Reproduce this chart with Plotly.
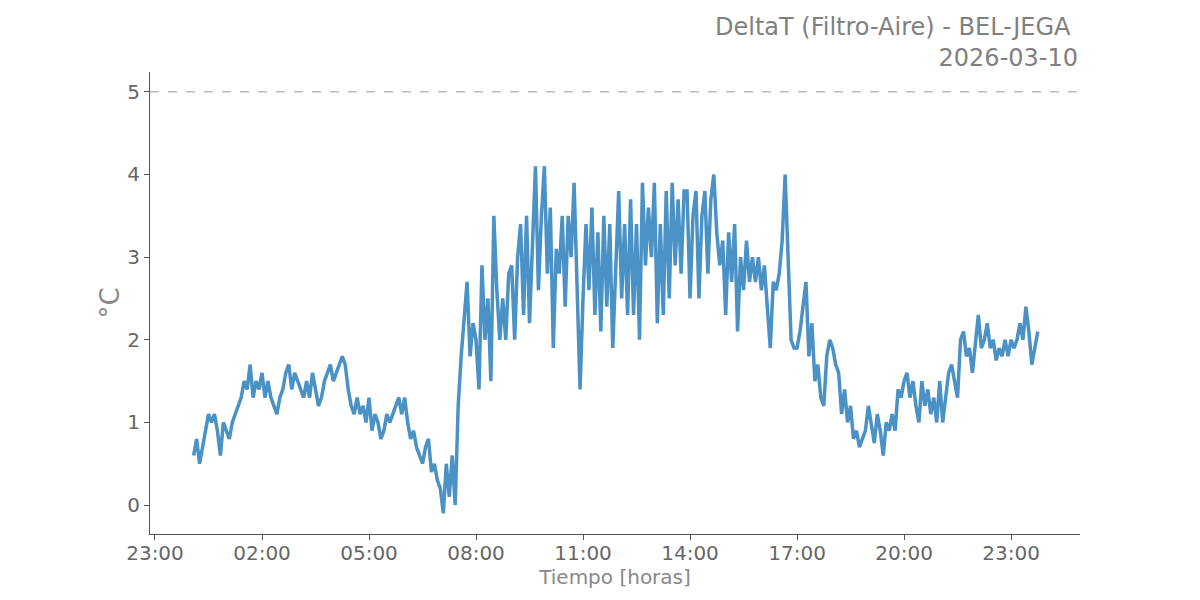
import plotly.graph_objects as go
import pandas as pd

# Values every 5 minutes, one row per hour (°C)
h00 = [0.6, 0.8, 0.5, 0.7, 0.9, 1.1, 1.0, 1.1, 0.9, 0.6, 1.0]  # starts 00:05
h01 = [0.9, 0.8, 1.0, 1.1, 1.2, 1.3, 1.5, 1.4, 1.7, 1.3, 1.5, 1.4]
h02 = [1.6, 1.3, 1.5, 1.3, 1.2, 1.1, 1.3, 1.4, 1.6, 1.7, 1.4, 1.6]
h03 = [1.5, 1.4, 1.3, 1.5, 1.3, 1.6, 1.4, 1.2, 1.3, 1.5, 1.6, 1.7]
h04 = [1.5, 1.6, 1.7, 1.8, 1.7, 1.4, 1.2, 1.1, 1.3, 1.1, 1.2, 1.0]
h05 = [1.3, 0.9, 1.1, 1.0, 0.8, 0.9, 1.1, 1.0, 1.1, 1.2, 1.3, 1.1]
h06 = [1.3, 1.0, 0.8, 0.9, 0.7, 0.6, 0.5, 0.7, 0.8, 0.4, 0.5, 0.3]
h07 = [0.2, -0.1, 0.5, 0.1, 0.6, 0.0, 1.2, 1.8, 2.3, 2.7, 1.8, 2.2]
h08 = [2.0, 1.4, 2.9, 2.0, 2.5, 1.5, 3.5, 2.6, 2.0, 2.5, 2.0, 2.8]
h09 = [2.9, 2.0, 3.0, 3.4, 2.3, 3.5, 2.2, 3.3, 4.1, 2.6, 3.5, 4.1]
h10 = [2.8, 3.6, 1.9, 3.1, 2.8, 3.5, 2.4, 3.5, 3.0, 3.9, 2.8, 1.4]
h11 = [2.5, 3.4, 2.6, 3.6, 2.3, 3.3, 2.1, 3.5, 2.4, 3.4, 1.9, 3.0]
h12 = [3.8, 2.5, 3.4, 2.3, 3.7, 2.3, 3.4, 2.0, 3.9, 2.9, 3.6, 3.0]
h13 = [3.9, 2.2, 3.4, 2.3, 3.8, 2.5, 3.9, 2.9, 3.7, 2.8, 3.8, 3.8]
h14 = [2.5, 3.5, 3.8, 2.5, 3.5, 3.8, 2.8, 3.7, 4.0, 3.3, 2.9, 3.2]
h15 = [2.3, 3.3, 2.7, 3.4, 2.1, 3.0, 2.6, 3.2, 2.7, 3.0, 2.7, 3.0]
h16 = [2.6, 2.9, 2.4, 1.9, 2.7, 2.6, 2.8, 3.2, 4.0, 3.0, 2.0, 1.9]
h17 = [1.9, 2.1, 2.4, 2.7, 1.8, 2.2, 1.5, 1.7, 1.3, 1.2, 1.8, 2.0]
h18 = [1.9, 1.7, 1.6, 1.1, 1.4, 1.0, 1.2, 0.8, 0.9, 0.7, 0.8, 0.9]
h19 = [1.2, 1.0, 0.75, 1.1, 0.9, 0.6, 1.0, 0.9, 1.1, 0.9, 1.4, 1.3]
h20 = [1.5, 1.6, 1.3, 1.5, 1.2, 1.0, 1.5, 1.2, 1.4, 1.1, 1.3, 1.0]
h21 = [1.5, 1.0, 1.3, 1.6, 1.7, 1.5, 1.3, 2.0, 2.1, 1.8, 1.9, 1.6]
h22 = [2.0, 2.3, 1.9, 2.0, 2.2, 1.9, 2.0, 1.75, 1.9, 1.8, 2.0, 1.8]
h23 = [2.0, 1.9, 2.0, 2.2, 2.0, 2.4, 2.1, 1.7, 1.9, 2.1]  # ends 23:45

values = (h00 + h01 + h02 + h03 + h04 + h05 + h06 + h07 + h08 + h09 + h10 + h11
          + h12 + h13 + h14 + h15 + h16 + h17 + h18 + h19 + h20 + h21 + h22 + h23)
times = pd.date_range("2026-03-10 00:05", periods=len(values), freq="5min")

threshold = 5
tick_vals = pd.date_range("2026-03-09 23:00", "2026-03-10 23:00", freq="3h")
tick_text = [t.strftime("%H:%M") for t in tick_vals]
x_range = ["2026-03-09 22:51:36", "2026-03-11 00:56:00"]

fig = go.Figure()
fig.add_trace(go.Scatter(x=times, y=values, mode="lines",
                         line=dict(color="#4a91c6", width=3.5), showlegend=False))
fig.add_trace(go.Scatter(x=x_range, y=[threshold, threshold], mode="lines",
                         line=dict(color="#bbbbbb", width=1.5, dash="dash"),
                         showlegend=False))

font = "DejaVu Sans"
fig.update_layout(
    width=1200, height=600,
    paper_bgcolor="white", plot_bgcolor="white",
    margin=dict(l=142, r=128, t=64, b=74),
    font=dict(family=font, color="#666666", size=20),
    xaxis=dict(range=x_range, tickvals=tick_vals, ticktext=tick_text,
               showgrid=False, zeroline=False, showline=True, linecolor="#555555",
               linewidth=1, ticks="outside", ticklen=5, tickcolor="#555555",
               ticklabelstandoff=-4,
               tickfont=dict(size=20, color="#666666"),
               title=dict(text="Tiempo [horas]", font=dict(size=20, color="#888888"),
                          standoff=2)),
    yaxis=dict(range=[-0.35, 5.24], tickvals=[0, 1, 2, 3, 4, 5],
               showgrid=False, zeroline=False, showline=True, linecolor="#555555",
               linewidth=1, ticks="outside", ticklen=5, tickcolor="#555555",
               tickfont=dict(size=20, color="#666666"),
               title=dict(text="°C", font=dict(size=26, color="#888888"),
                          standoff=0)),
    annotations=[dict(text="DeltaT (Filtro-Aire) - BEL-JEGA <br>2026-03-10",
                      xref="paper", yref="paper", x=1, y=1, xanchor="right",
                      yanchor="bottom", align="right", showarrow=False, yshift=-2,
                      font=dict(size=24, color="#808080", family=font))],
)

fig.write_html("out.html")
